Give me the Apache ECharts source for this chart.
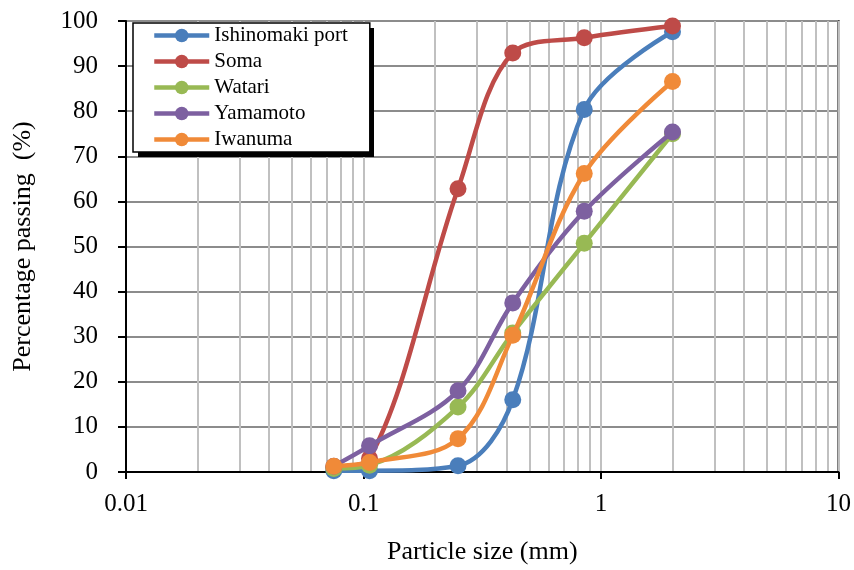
<!DOCTYPE html>
<html>
<head>
<meta charset="utf-8">
<script src="https://cdn.jsdelivr.net/npm/echarts@6/dist/echarts.min.js"></script>
<style>
  html, body { margin: 0; padding: 0; background: #fff; }
  #chart { width: 854px; height: 570px; }
</style>
</head>
<body>
<div id="chart"></div>
<script>
// sieve sizes (mm) and percentage passing per site
const sizes = [0.075, 0.106, 0.25, 0.425, 0.85, 2.0];
const ishinomaki = [0.3, 0.3, 1.4, 16.0, 80.4, 97.6];
const soma = [1.0, 3.0, 62.8, 92.9, 96.3, 98.9];
const watari = [0.8, 1.5, 14.4, 30.8, 50.7, 75.0];
const yamamoto = [1.3, 5.8, 18.0, 37.5, 57.8, 75.4];
const iwanuma = [1.3, 2.1, 7.4, 30.3, 66.2, 86.6];

const seriesNames = ["Ishinomaki port", "Soma", "Watari", "Yamamoto", "Iwanuma"];
const seriesColors = ["#4A7EBB", "#BE4B48", "#98B954", "#7D60A0", "#F08A38"];
const seriesValues = [ishinomaki, soma, watari, yamamoto, iwanuma];

const font = "'Liberation Serif', 'Times New Roman', serif";

const chart = echarts.init(document.getElementById("chart"));

// 组装系列
const series = seriesNames.map((name, i) => ({
  name: name,
  type: "line",
  data: sizes.map((s, j) => [s, seriesValues[i][j]]),
  smooth: 0.35,
  symbol: "circle",
  symbolSize: 17,
  lineStyle: { width: 4.5, color: seriesColors[i] },
  itemStyle: { color: seriesColors[i] },
  z: 10 + i,
}));

const option = {
  animation: false,
  grid: {
    left: 126,
    right: 15,
    top: 21,
    bottom: 97,
    show: true,
    borderColor: "#000",
    borderWidth: 2,
    backgroundColor: "transparent",
  },
  // 图例的黑色阴影块
  graphic: [
    {
      type: "rect",
      left: 138,
      top: 28,
      z: 3,
      shape: { width: 236, height: 129 },
      style: { fill: "#000" },
    },
  ],
  legend: {
    orient: "vertical",
    left: 133,
    top: 23,
    z: 4,
    itemWidth: 55,
    itemHeight: 17,
    itemGap: 5,
    itemTextGap: 2,
    padding: [2, 22, 2, 19],
    backgroundColor: "#fff",
    borderColor: "#000",
    borderWidth: 1.5,
    borderRadius: 0,
    lineStyle: { width: 4.5 },
    textStyle: { fontFamily: font, fontSize: 21, color: "#000" },
    data: seriesNames,
  },
  xAxis: {
    type: "log",
    logBase: 10,
    min: 0.01,
    max: 10,
    name: "Particle size (mm)",
    nameLocation: "middle",
    nameGap: 67,
    nameTextStyle: { fontFamily: font, fontSize: 26, color: "#000" },
    axisLine: { lineStyle: { color: "#000", width: 2 } },
    axisTick: { show: true, inside: false, length: 7, lineStyle: { color: "#000", width: 2 } },
    axisLabel: { fontFamily: font, fontSize: 25, color: "#000", margin: 20 },
    splitLine: { show: true, lineStyle: { color: "#c0c0c0", width: 2 } },
    minorTick: { show: false, splitNumber: 9 },
    minorSplitLine: { show: true, lineStyle: { color: "#c0c0c0", width: 2 } },
  },
  yAxis: {
    type: "value",
    min: 0,
    max: 100,
    interval: 10,
    name: "Percentage passing  (%)",
    nameLocation: "middle",
    nameGap: 90,
    nameTextStyle: { fontFamily: font, fontSize: 26, color: "#000" },
    axisLine: { show: true, lineStyle: { color: "#000", width: 2 } },
    axisTick: { show: true, inside: false, length: 8, lineStyle: { color: "#000", width: 2 } },
    axisLabel: { fontFamily: font, fontSize: 25, color: "#000", margin: 28 },
    splitLine: { show: true, lineStyle: { color: "#8c8c8c", width: 2 } },
  },
  series: series,
};

chart.setOption(option);
</script>
</body>
</html>
